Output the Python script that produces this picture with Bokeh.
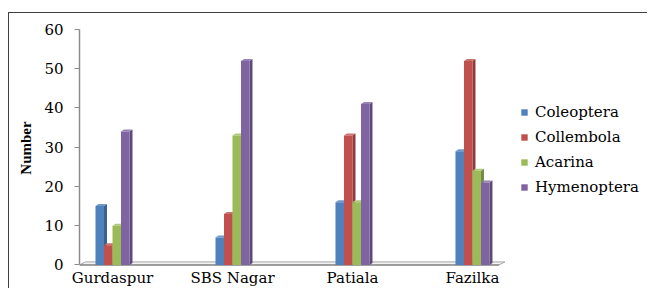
from bokeh.plotting import figure
from bokeh.models import FixedTicker, Range1d, Legend, LegendItem, ColumnDataSource
from bokeh.embed import file_html
from bokeh.resources import INLINE

# ---- data ----
districts = ["Gurdaspur", "SBS Nagar", "Patiala", "Fazilka"]
series = ["Coleoptera", "Collembola", "Acarina", "Hymenoptera"]
coleoptera = [15, 7, 16, 29]
collembola = [5, 13, 33, 52]
acarina = [10, 33, 16, 24]
hymenoptera = [34, 52, 41, 21]
y_ticks = [0, 10, 20, 30, 40, 50, 60]

values = [coleoptera, collembola, acarina, hymenoptera]
front_colors = ["#4F81BD", "#C0504D", "#9BBB59", "#8064A2"]
side_colors = ["#3A6190", "#913B39", "#738C40", "#5E4A78"]
top_colors = ["#6F98CC", "#CD716E", "#AFCA7A", "#9882B6"]

FONT = "DejaVu Serif"

p = figure(width=639, height=276, output_backend="svg", toolbar_location=None,
           x_range=Range1d(-0.275, 4.467), y_range=Range1d(-0.4, 60),
           min_border_left=70, min_border_right=0, min_border_top=16,
           min_border_bottom=20)
p.styles = {"margin-top": "12px", "margin-left": "8px",
            "border-top": "1px solid #404040",
            "border-left": "1px solid #404040"}
p.outline_line_color = None
p.xgrid.visible = False
p.ygrid.visible = False
p.background_fill_color = "white"
p.border_fill_color = "white"

# geometry in data units
w = 8.5 / 120.0          # bar width
d = 3.0 / 120.0          # depth (x)
dy = 2.0 / 3.933         # depth (y)
fx = 6.0 / 120.0
fy = 3.0 / 3.933

# floor
x0, x1 = -0.275, 3.22
p.patch([x0, x1, x1 + fx, x0 + fx], [0, 0, fy, fy], fill_color="#F2F2F2",
        line_color="#A6A6A6", line_width=1)
p.line([x0, x1], [0, 0], line_color="#8C8C8C", line_width=1.5)

renderers = []
for k, (vals, fc, sc, tc) in enumerate(zip(values, front_colors, side_colors, top_colors)):
    off = (k - 1.5) * w
    xs_side, ys_side, xs_top, ys_top = [], [], [], []
    centers = []
    for i, v in enumerate(vals):
        xc = i + off
        centers.append(xc)
        xl, xr = xc - w / 2, xc + w / 2
        xs_side.append([xr, xr + d, xr + d, xr])
        ys_side.append([0, dy, v + dy, v])
        xs_top.append([xl, xl + d, xr + d, xr])
        ys_top.append([v, v + dy, v + dy, v])
    p.patches(xs_side, ys_side, fill_color=sc, line_color=None)
    p.patches(xs_top, ys_top, fill_color=tc, line_color=None)
    src = ColumnDataSource(dict(x=centers, top=vals))
    r = p.vbar(x="x", top="top", bottom=0, width=w, source=src,
               fill_color=fc, line_color=None)
    renderers.append(r)

# y axis
ya = p.yaxis[0]
ya.ticker = FixedTicker(ticks=y_ticks)
ya.bounds = (0, 60)
ya.axis_line_color = "#8C8C8C"
ya.axis_line_width = 1.5
ya.major_tick_line_color = "#8C8C8C"
ya.major_tick_out = 5
ya.major_tick_in = 0
ya.minor_tick_line_color = None
ya.major_label_standoff = 11
ya.major_label_text_font = FONT
ya.major_label_text_font_size = "15px"
ya.major_label_text_color = "black"
ya.axis_label = "Number"
ya.axis_label_text_font = "Liberation Serif"
ya.axis_label_text_font_style = "bold"
ya.axis_label_text_font_size = "15px"
ya.axis_label_text_color = "black"
ya.axis_label_standoff = 7

# x axis
xa = p.xaxis[0]
xa.axis_label = None
xa.axis_label_standoff = 0
xa.ticker = FixedTicker(ticks=[0, 1, 2, 3])
xa.major_label_overrides = {i: name for i, name in enumerate(districts)}
xa.axis_line_color = None
xa.major_tick_line_color = None
xa.major_tick_out = 0
xa.major_tick_in = 0
xa.minor_tick_line_color = None
xa.minor_tick_out = 0
xa.major_label_standoff = 2
xa.major_label_text_font = FONT
xa.major_label_text_font_size = "15px"
xa.major_label_text_color = "black"

legend = Legend(items=[LegendItem(label=s, renderers=[r]) for s, r in zip(series, renderers)],
                location=(441, 69))
legend.border_line_color = None
legend.background_fill_alpha = 0
legend.margin = 0
legend.padding = 12
legend.glyph_width = 8
legend.glyph_height = 8
legend.label_standoff = 7
legend.label_height = 20
legend.spacing = 5
legend.label_text_font = FONT
legend.label_text_font_size = "15px"
legend.label_text_color = "black"
p.add_layout(legend)

open("out.html", "w").write(file_html(p, INLINE))
